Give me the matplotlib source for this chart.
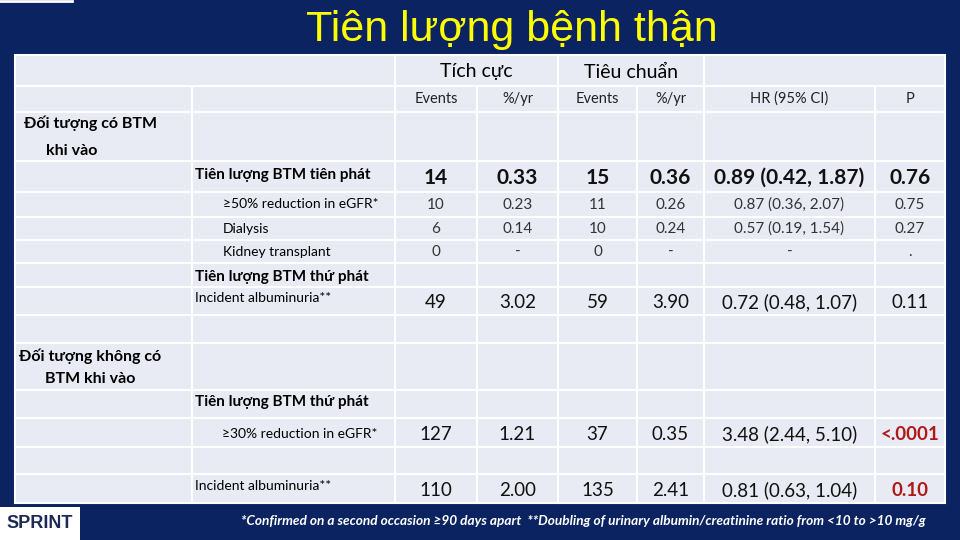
import matplotlib
matplotlib.use("Agg")
import matplotlib.pyplot as plt
from matplotlib.patches import Rectangle

TITLE = "Tiên lượng bệnh thận"
GROUPS = ["Tích cực", "Tiêu chuẩn"]
SUBHEAD = ["Events", "%/yr", "Events", "%/yr", "HR (95% CI)", "P"]

# data rows: (label, events_int, rate_int, events_std, rate_std, hr, p)
LABELS = ["Tiên lượng BTM tiên phát", "≥50% reduction in eGFR*", "Dialysis",
          "Kidney transplant", "Incident albuminuria**",
          "≥30% reduction in eGFR*", "Incident albuminuria**"]
EV_INT = ["14", "10", "6", "0", "49", "127", "110"]
RATE_INT = ["0.33", "0.23", "0.14", "-", "3.02", "1.21", "2.00"]
EV_STD = ["15", "11", "10", "0", "59", "37", "135"]
RATE_STD = ["0.36", "0.26", "0.24", "-", "3.90", "0.35", "2.41"]
HR = ["0.89 (0.42, 1.87)", "0.87 (0.36, 2.07)", "0.57 (0.19, 1.54)", "-",
      "0.72 (0.48, 1.07)", "3.48 (2.44, 5.10)", "0.81 (0.63, 1.04)"]
PVAL = ["0.76", "0.75", "0.27", ".", "0.11", "<.0001", "0.10"]

NAVY = "#0b2461"
CELL = "#e8ebf3"
FONT = "Lato"

rows_y = [55, 86, 112, 161, 192, 217, 240, 263, 287, 315, 343, 390, 418, 447, 474, 503]
cols_x = [15, 192, 395, 477, 558, 637, 704, 875, 945]

fig = plt.figure(figsize=(9.6, 5.4), dpi=100, facecolor=NAVY)
ax = fig.add_axes([0, 0, 1, 1])
ax.set_xlim(0, 960)
ax.set_ylim(540, 0)
ax.axis("off")

def cell(x0, x1, y0, y1):
    ax.add_patch(Rectangle((x0, y0), x1 - x0, y1 - y0, facecolor=CELL,
                           edgecolor="white", linewidth=1.5))

# grid
for r in range(len(rows_y) - 1):
    y0, y1 = rows_y[r], rows_y[r + 1]
    if r == 0:
        cell(cols_x[0], cols_x[2], y0, y1)
        cell(cols_x[2], cols_x[4], y0, y1)
        cell(cols_x[4], cols_x[6], y0, y1)
        cell(cols_x[6], cols_x[8], y0, y1)
    else:
        for c in range(len(cols_x) - 1):
            cell(cols_x[c], cols_x[c + 1], y0, y1)

ax.plot([0, 72], [1, 1], color="white", lw=2)
ax.text(512, 30, TITLE, color="#ffff00", fontsize=31, ha="center", va="center",
        family="Liberation Sans")

# headers
for i, g in enumerate(GROUPS):
    ax.text((cols_x[2 + 2 * i] + cols_x[4 + 2 * i]) / 2, 72, g, fontsize=14,
            ha="center", va="center", family=FONT)
for i, s in enumerate(SUBHEAD):
    ax.text((cols_x[2 + i] + cols_x[3 + i]) / 2, 99, s, fontsize=10.5,
            ha="center", va="center", family=FONT, color="#222")

# group labels
kw = dict(fontsize=11.5, weight="bold", ha="center", va="center", family=FONT)
ax.text(90, 123, "Đối tượng có BTM", **kw)
ax.text(72, 151, "khi vào", **kw)
ax.text(90, 356, "Đối tượng không có", **kw)
ax.text(90, 379, "BTM khi vào", **kw)
ax.text(195, 277, "Tiên lượng BTM thứ phát", fontsize=11, weight="bold", va="center", family=FONT)
ax.text(195, 402, "Tiên lượng BTM thứ phát", fontsize=11, weight="bold", va="center", family=FONT)

# data rows
row_y = [178, 205, 229, 252, 302, 434, 490]
label_y = [175, 204, 229, 252, 298, 434, 486]
label_x = [195, 223, 223, 223, 195, 222, 195]
big = [15, 11, 11, 11, 13.5, 13.5, 13.5]
lab_size = [11, 10, 10, 10, 10, 10, 10]
for i, lab in enumerate(LABELS):
    bold = i == 0
    ax.text(label_x[i], label_y[i], lab, fontsize=lab_size[i], weight="bold" if bold else "normal",
            va="center", family=FONT)
    vals = [EV_INT[i], RATE_INT[i], EV_STD[i], RATE_STD[i], HR[i], PVAL[i]]
    for c, v in enumerate(vals):
        red = i >= 5 and c == 5
        ax.text((cols_x[2 + c] + cols_x[3 + c]) / 2, row_y[i], v, fontsize=big[i],
                weight="bold" if (bold or red) else "normal",
                color="#b01818" if red else ("#111" if big[i] > 12 else "#333"),
                ha="center", va="center", family=FONT)

# footnote and logo
ax.text(583, 521, "*Confirmed on a second occasion ≥90 days apart  **Doubling of urinary albumin/creatinine ratio from <10 to >10 mg/g",
        fontsize=9.8, style="italic", weight="bold", color="white", ha="center", va="center", family=FONT)
ax.add_patch(Rectangle((0, 507), 80, 33, facecolor="white", edgecolor="none"))
ax.text(40, 524, "SPRINT", fontsize=13, weight="bold", color="#1c2a55", ha="center",
        va="center", family="Liberation Sans")

fig.savefig("out.png", dpi=100, facecolor=NAVY)
